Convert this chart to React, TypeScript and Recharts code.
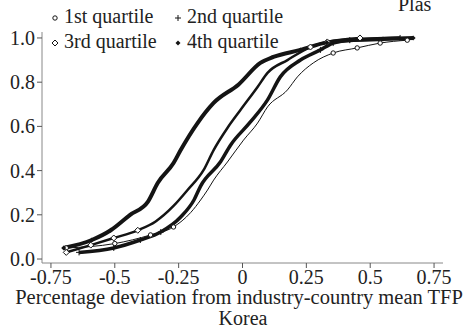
import React from "react";
import { CartesianGrid, Line, LineChart, XAxis, YAxis } from "recharts";

const FONT = "'Liberation Serif', 'DejaVu Serif', serif";

// cumulative shares by percentage deviation
const Q1_X = [-0.69, -0.5, -0.36, -0.27, -0.203, -0.164, -0.137, -0.113, -0.059, 0.004, 0.059, 0.098, 0.176, 0.215, 0.277, 0.355, 0.449, 0.539, 0.645];
const Q1_Y = [0.05, 0.07, 0.109, 0.145, 0.21, 0.267, 0.312, 0.357, 0.439, 0.538, 0.615, 0.688, 0.765, 0.824, 0.887, 0.932, 0.955, 0.977, 0.99];

const Q2_X = [-0.64, -0.504, -0.4, -0.32, -0.242, -0.19, -0.164, -0.086, -0.047, 0.031, 0.098, 0.148, 0.227, 0.305, 0.355, 0.42, 0.617];
const Q2_Y = [0.03, 0.05, 0.086, 0.122, 0.19, 0.267, 0.33, 0.44, 0.515, 0.62, 0.72, 0.824, 0.9, 0.946, 0.977, 0.99, 1.0];

const Q3_X = [-0.69, -0.594, -0.504, -0.41, -0.34, -0.27, -0.215, -0.152, -0.113, -0.059, -0.008, 0.059, 0.098, 0.176, 0.266, 0.332, 0.46];
const Q3_Y = [0.03, 0.063, 0.095, 0.13, 0.17, 0.24, 0.312, 0.403, 0.493, 0.593, 0.674, 0.778, 0.842, 0.9, 0.959, 0.982, 1.0];

const Q4_X = [-0.7, -0.59, -0.516, -0.44, -0.37, -0.332, -0.27, -0.242, -0.176, -0.113, -0.015, 0.07, 0.121, 0.227, 0.33, 0.42, 0.55, 0.668];
const Q4_Y = [0.05, 0.086, 0.13, 0.2, 0.26, 0.344, 0.434, 0.493, 0.615, 0.706, 0.79, 0.887, 0.914, 0.946, 0.98, 0.99, 0.995, 1.0];

const X_TICKS = [-0.75, -0.5, -0.25, 0, 0.25, 0.5, 0.75];
const X_TICK_LABELS = ["-0.75", "-0.5", "-0.25", "0", "0.25", "0.5", "0.75"];
const Y_TICKS = [0, 0.2, 0.4, 0.6, 0.8, 1.0];

const LEGEND = [
  { kind: "circle", label: "1st quartile" },
  { kind: "plus", label: "2nd quartile" },
  { kind: "diamond", label: "3rd quartile" },
  { kind: "dot", label: "4th quartile" },
];

const INK = "#141414";

function toRows(xs: number[], ys: number[]) {
  return xs.map((x, i) => ({ x, y: ys[i] }));
}

function Marker({ kind, cx, cy }: { kind: string; cx: number; cy: number }) {
  if (kind === "circle")
    return <circle cx={cx} cy={cy} r={2.2} fill="#fff" stroke={INK} strokeWidth={1} />;
  if (kind === "plus")
    return (
      <path d={`M${cx - 3},${cy}H${cx + 3}M${cx},${cy - 3}V${cy + 3}`} stroke={INK} strokeWidth={1} />
    );
  if (kind === "diamond")
    return (
      <path d={`M${cx},${cy - 3}L${cx + 3},${cy}L${cx},${cy + 3}L${cx - 3},${cy}Z`} fill="#fff" stroke={INK} strokeWidth={1} />
    );
  return <path d={`M${cx},${cy - 2.5}L${cx + 2.5},${cy}L${cx},${cy + 2.5}L${cx - 2.5},${cy}Z`} fill={INK} />;
}

// markers only show up in the sparse tails of the distributions
function dotFor(kind: string) {
  return (p: any) => {
    const v = p.payload?.y ?? 0.5;
    if (v > 0.15 && v < 0.93) return <g key={`${kind}-${p.index}`} />;
    return (
      <g key={`${kind}-${p.index}`}>
        <Marker kind={kind} cx={p.cx} cy={p.cy} />
      </g>
    );
  };
}

function LegendIcon({ kind }: { kind: string }) {
  return (
    <svg width={10} height={10} style={{ marginRight: 4, verticalAlign: "middle" }}>
      <Marker kind={kind} cx={5} cy={5} />
    </svg>
  );
}

export default function App() {
  const series = [
    { key: "q1", kind: "circle", rows: toRows(Q1_X, Q1_Y), width: 1 },
    { key: "q2", kind: "plus", rows: toRows(Q2_X, Q2_Y), width: 3.5 },
    { key: "q3", kind: "diamond", rows: toRows(Q3_X, Q3_Y), width: 2.5 },
    { key: "q4", kind: "dot", rows: toRows(Q4_X, Q4_Y), width: 4 },
  ];

  const text = { position: "absolute" as const, fontFamily: FONT, fontSize: 20, color: "#222", whiteSpace: "nowrap" as const, lineHeight: "20px" };

  return (
    <div style={{ position: "absolute", left: 0, top: 0, width: 464, height: 331, background: "#fff", overflow: "hidden" }}>
      <LineChart width={464} height={331} margin={{ top: 32, right: 21, bottom: 0, left: 0 }}>
        <CartesianGrid stroke="none" />
        <XAxis
          dataKey="x"
          type="number"
          domain={[-0.785, 0.785]}
          ticks={X_TICKS}
          interval={0}
          tickFormatter={(v: number, i: number) => X_TICK_LABELS[i] ?? String(v)}
          height={68}
          tickSize={5}
          tickMargin={2}
          axisLine={{ stroke: "#888" }}
          tickLine={{ stroke: "#555" }}
          tick={{ fill: "#222", fontSize: 20, fontFamily: FONT }}
          allowDataOverflow
        />
        <YAxis
          type="number"
          domain={[-0.018, 1.027]}
          ticks={Y_TICKS}
          interval={0}
          tickFormatter={(v: number) => v.toFixed(1)}
          width={42}
          tickSize={5}
          tickMargin={2}
          axisLine={{ stroke: "#888" }}
          tickLine={{ stroke: "#555" }}
          tick={{ fill: "#222", fontSize: 20, fontFamily: FONT }}
          allowDataOverflow
        />
        {series.map((s) => (
          <Line
            key={s.key}
            data={s.rows}
            dataKey="y"
            type="monotone"
            stroke={INK}
            strokeWidth={s.width}
            dot={dotFor(s.kind)}
            activeDot={false}
            isAnimationActive={false}
          />
        ))}
      </LineChart>

      <div style={{ ...text, left: 398, top: -6 }}>Plas</div>

      <div style={{ ...text, left: 50, top: 6 }}>
        <LegendIcon kind={LEGEND[0].kind} />
        {LEGEND[0].label}
      </div>
      <div style={{ ...text, left: 173, top: 6 }}>
        <LegendIcon kind={LEGEND[1].kind} />
        {LEGEND[1].label}
      </div>
      <div style={{ ...text, left: 50, top: 31 }}>
        <LegendIcon kind={LEGEND[2].kind} />
        {LEGEND[2].label}
      </div>
      <div style={{ ...text, left: 173, top: 31 }}>
        <LegendIcon kind={LEGEND[3].kind} />
        {LEGEND[3].label}
      </div>

      <div style={{ ...text, fontSize: 20.5, left: 0, width: 478, textAlign: "center", top: 287 }}>
        Percentage deviation from industry-country mean TFP
      </div>
      <div style={{ ...text, left: 0, width: 486, textAlign: "center", top: 308 }}>Korea</div>
    </div>
  );
}
